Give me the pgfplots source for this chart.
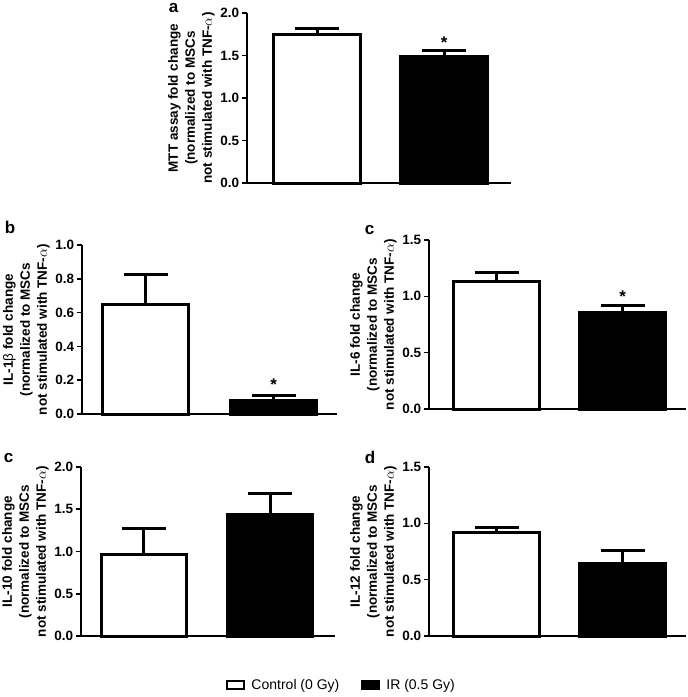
\documentclass[border=0pt]{standalone}
\usepackage{pgfplots}
\pgfplotsset{compat=1.18}
\usepackage{fontspec}
\setmainfont{Liberation Sans}
\begin{document}
\pgfplotsset{
  panel/.style={
    scale only axis,
    anchor=south west,
    xmin=0, ymin=0,
    axis x line*=bottom, axis y line*=left,
    axis line style={line width=1.6pt, -},
    xtick=\empty,
    tick align=outside,
    major tick length=5pt,
    ytick style={line width=1.6pt, black},
    clip=false,
    /pgf/number format/assume math mode=true,
    /pgf/number format/fixed, /pgf/number format/fixed zerofill, /pgf/number format/precision=1,
    yticklabel style={font=\fontsize{13.5}{15}\selectfont\bfseries, xshift=1pt},
    ylabel style={font=\fontsize{13.5}{17}\selectfont\bfseries, align=center, yshift=-1pt},
    ybar, bar shift=0pt,
    legend image code/.code={\draw[#1, line width=2pt] (0pt,-4pt) rectangle (17pt,4pt);},
  },
  wbar/.style={fill=white, draw=black, line width=3pt,
    error bars/.cd, y dir=plus, y explicit,
    error bar style={line width=3pt, black},
    error mark options={rotate=90, mark size=22pt, line width=3pt, black}},
  bbar/.style={fill=black, draw=black, line width=3pt,
    error bars/.cd, y dir=plus, y explicit,
    error bar style={line width=3pt, black},
    error mark options={rotate=90, mark size=22pt, line width=3pt, black}},
}
\begin{tikzpicture}[x=1pt,y=1pt]
\path[use as bounding box] (0,0) rectangle (685,-697);
% panel letters
\node[font=\fontsize{17}{20}\selectfont\bfseries, anchor=north west, inner sep=0] at (166,-3) {a};
\node[font=\fontsize{17}{20}\selectfont\bfseries, anchor=north west, inner sep=0] at (2,-221) {b};
\node[font=\fontsize{17}{20}\selectfont\bfseries, anchor=north west, inner sep=0] at (362,-225) {c};
\node[font=\fontsize{17}{20}\selectfont\bfseries, anchor=north west, inner sep=0] at (1,-453) {c};
\node[font=\fontsize{17}{20}\selectfont\bfseries, anchor=north west, inner sep=0] at (362,-451) {d};

% a
\begin{axis}[panel, at={(244pt,-183pt)}, width=264pt, height=170pt, xmax=264,
  ymax=2.0, ytick={0,0.5,1.0,1.5,2.0}, bar width=87,
  ylabel={MTT assay fold change\\(normalized to MSCs\\not stimulated with TNF-$\alpha$)}]
\addplot[wbar] coordinates {(70.5,1.75) +- (0,0.07)};
\addplot[bbar] coordinates {(197.5,1.49) +- (0,0.065)};
\node[font=\fontsize{17}{17}\selectfont\bfseries, anchor=north, inner sep=0] at (axis cs:197.5,1.72) {*};
\end{axis}

% b
\begin{axis}[panel, at={(79pt,-414pt)}, width=255pt, height=169pt, xmax=255,
  ymax=1.0, ytick={0,0.2,0.4,0.6,0.8,1.0}, bar width=86,
  ylabel={IL-1{\mdseries β} fold change\\(normalized to MSCs\\not stimulated with TNF-$\alpha$)}]
\addplot[wbar] coordinates {(64,0.65) +- (0,0.175)};
\addplot[bbar] coordinates {(192,0.077) +- (0,0.035)};
\node[font=\fontsize{17}{17}\selectfont\bfseries, anchor=north, inner sep=0] at (axis cs:192,0.207) {*};
\end{axis}

% c IL-6
\begin{axis}[panel, at={(426pt,-409pt)}, width=257pt, height=169pt, xmax=257,
  ymax=1.5, ytick={0,0.5,1.0,1.5}, bar width=86,
  ylabel={IL-6 fold change\\(normalized to MSCs\\not stimulated with TNF-$\alpha$)}]
\addplot[wbar] coordinates {(68,1.135) +- (0,0.08)};
\addplot[bbar] coordinates {(194,0.86) +- (0,0.055)};
\node[font=\fontsize{17}{17}\selectfont\bfseries, anchor=north, inner sep=0] at (axis cs:194,1.047) {*};
\end{axis}

% c IL-10
\begin{axis}[panel, at={(78pt,-636pt)}, width=254pt, height=169pt, xmax=254,
  ymax=2.0, ytick={0,0.5,1.0,1.5,2.0}, bar width=85,
  ylabel={IL-10 fold change\\(normalized to MSCs\\not stimulated with TNF-$\alpha$)},
  legend columns=2,
  legend style={at={(1.035,-0.29)}, anchor=center, draw=none, fill=none,
    font=\fontsize{14}{16}\selectfont,
    /tikz/every even column/.append style={column sep=16pt},
    nodes={inner xsep=6pt}}]
\addplot[wbar] coordinates {(63,0.96) +- (0,0.31)};
\addlegendentry{Control (0 Gy)}
\addplot[bbar] coordinates {(189.5,1.44) +- (0,0.25)};
\addlegendentry{IR (0.5 Gy)}
\end{axis}

% d IL-12
\begin{axis}[panel, at={(426pt,-636pt)}, width=257pt, height=169pt, xmax=257,
  ymax=1.5, ytick={0,0.5,1.0,1.5}, bar width=86,
  ylabel={IL-12 fold change\\(normalized to MSCs\\not stimulated with TNF-$\alpha$)}]
\addplot[wbar] coordinates {(68,0.92) +- (0,0.04)};
\addplot[bbar] coordinates {(194,0.648) +- (0,0.107)};
\end{axis}
\end{tikzpicture}
\end{document}
